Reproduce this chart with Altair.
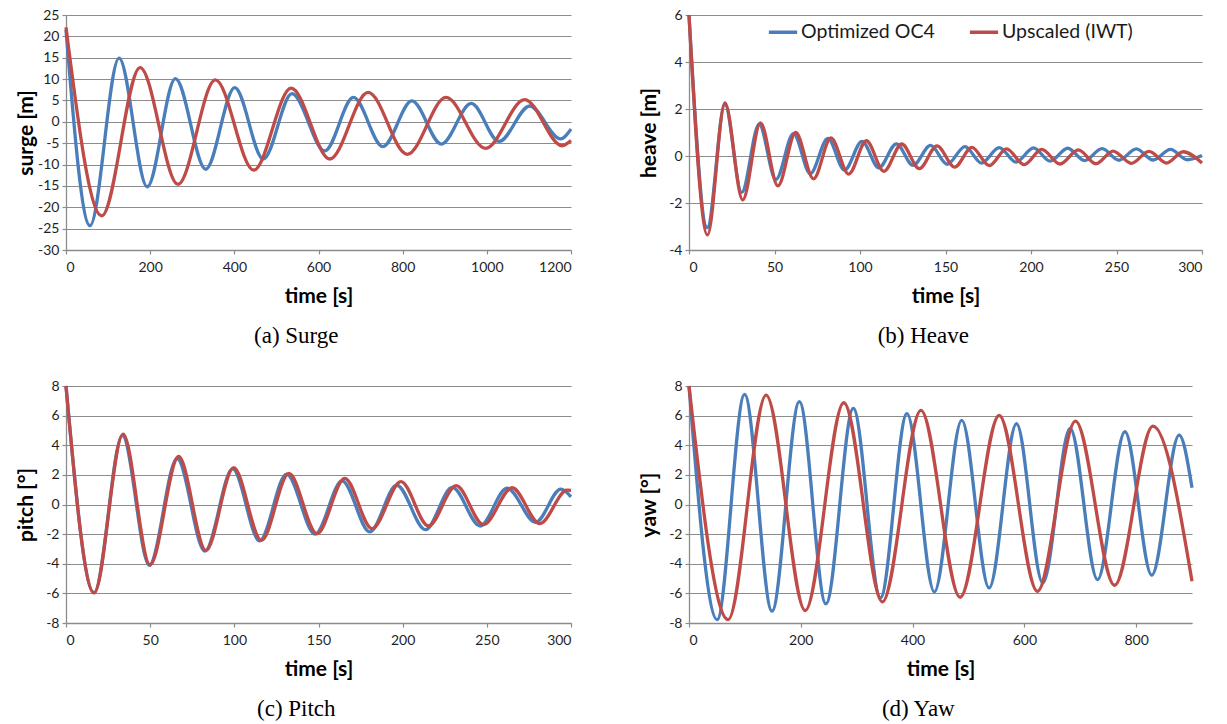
import altair as alt
import pandas as pd

SERIES = ["Optimized OC4", "Upscaled (IWT)"]
COLORS = ["#4A7EBB", "#BE4B48"]

# ---- Surge (extrema) ----
surge_t_oc4 = [0, 57, 126, 193, 260, 332, 401, 469, 537, 615, 683, 753, 822, 892, 963, 1029, 1102, 1175, 1200]
surge_y_oc4 = [21.5, -24.3, 14.9, -15.2, 10.1, -11.1, 8.0, -8.7, 6.6, -6.8, 5.7, -5.8, 4.9, -5.2, 4.3, -4.6, 3.7, -4.0, -1.7]
surge_t_iwt = [0, 85, 176, 266, 355, 446, 535, 627, 718, 811, 903, 997, 1090, 1179, 1200]
surge_y_iwt = [22.1, -22.0, 12.7, -14.6, 9.8, -11.3, 7.9, -8.7, 6.9, -7.6, 5.7, -6.2, 5.2, -5.6, -4.4]

# ---- Heave ----
heave_t_oc4 = [0, 10.7, 21, 30.8, 41, 50.8, 61.1, 70.9, 81.2, 90.9, 101.2, 111, 121.3, 131, 141.3, 151,
               161.4, 171.1, 181.4, 191.2, 201.5, 211.2, 221.5, 231.3, 241.6, 251.3, 261.6, 271.4, 281.6, 291.4, 300]
heave_y_oc4 = [6.0, -3.05, 2.2, -1.55, 1.35, -1.0, 0.95, -0.75, 0.75, -0.6, 0.62, -0.5, 0.52, -0.4, 0.45, -0.35,
               0.4, -0.3, 0.36, -0.26, 0.35, -0.22, 0.33, -0.2, 0.31, -0.18, 0.3, -0.17, 0.28, -0.16, 0.02]
heave_t_iwt = [0, 10.8, 21, 31.4, 41.8, 52, 62.4, 72.8, 83, 93.4, 103.7, 114, 124.4, 134.7, 145, 155.4,
               165.4, 175.6, 185.7, 196, 206.3, 217, 227.7, 238, 248, 258.7, 269, 279.3, 289, 300]
heave_y_iwt = [6.0, -3.36, 2.26, -1.87, 1.41, -1.27, 1.0, -0.97, 0.77, -0.77, 0.65, -0.65, 0.51, -0.54, 0.43, -0.47,
               0.37, -0.41, 0.3, -0.37, 0.28, -0.34, 0.26, -0.33, 0.21, -0.31, 0.2, -0.3, 0.18, -0.3]

# ---- Pitch ----
pitch_t_oc4 = [0, 16.7, 33.5, 49.5, 66, 82.5, 99, 115, 131, 148, 164, 180.5, 196.5, 213.5, 229.5, 246, 262, 279, 294, 300]
pitch_y_oc4 = [8.0, -5.95, 4.65, -4.1, 3.1, -3.15, 2.4, -2.45, 2.05, -2.0, 1.6, -1.85, 1.3, -1.7, 1.15, -1.45, 1.1, -1.2, 1.04, 0.52]
pitch_t_iwt = [0, 16.7, 33.9, 49.9, 66.9, 83.1, 99.6, 116.1, 132.4, 149.1, 165.6, 181.8, 199, 215.3, 231.8, 248, 265, 281.5, 297.7, 300]
pitch_y_iwt = [8.0, -5.97, 4.75, -4.07, 3.24, -3.1, 2.49, -2.42, 2.1, -1.97, 1.76, -1.63, 1.54, -1.45, 1.27, -1.36, 1.13, -1.29, 0.97, 0.95]

# ---- Yaw ----
yaw_t_oc4 = [0, 50.4, 99.5, 148.5, 197.5, 245, 294, 342.6, 390, 439, 488, 537, 586, 633, 682, 731, 780, 828, 877, 900]
yaw_y_oc4 = [8.0, -7.77, 7.43, -7.2, 6.94, -6.71, 6.49, -6.3, 6.13, -5.9, 5.68, -5.63, 5.45, -5.3, 5.13, -5.07, 4.91, -4.77, 4.68, 1.13]
yaw_t_iwt = [0, 70, 138, 208, 277, 346, 415, 485, 555, 623.5, 691.5, 761.5, 830, 900]
yaw_y_iwt = [8.0, -7.77, 7.39, -7.16, 6.87, -6.58, 6.35, -6.26, 6.01, -5.86, 5.63, -5.45, 5.29, -5.18]

LABEL_FONT = "Lato"
GRID = "#8C8C8C"


def frame(t1, y1, t2, y2):
    a = pd.DataFrame({"t": t1, "v": y1, "series": SERIES[0]})
    b = pd.DataFrame({"t": t2, "v": y2, "series": SERIES[1]})
    return pd.concat([a, b], ignore_index=True)


def panel(df, xdom, xticks, ydom, yticks, ytitle, caption, width, height, legend=False):
    if legend:
        leg = alt.Legend(
            title=None, orient="none", legendX=78, legendY=1, direction="horizontal",
            symbolType="stroke", symbolSize=800, symbolStrokeWidth=3.5,
            labelFont=LABEL_FONT, labelFontSize=19.5, labelColor="#1a1a1a",
            columnPadding=27, labelOffset=2, symbolOffset=0,
        )
    else:
        leg = None
    return (
        alt.Chart(df)
        .mark_line(strokeWidth=3.3, interpolate="monotone")
        .encode(
            x=alt.X("t:Q", scale=alt.Scale(domain=xdom, nice=False, zero=False),
                    axis=alt.Axis(values=xticks, title="time [s]", grid=False,
                                  labelExpr="'' + datum.value")),
            y=alt.Y("v:Q", scale=alt.Scale(domain=ydom, nice=False, zero=False),
                    axis=alt.Axis(values=yticks, title=ytitle, grid=True,
                                  labelExpr="'' + datum.value",
                                  minExtent=28, maxExtent=28)),
            color=alt.Color("series:N", scale=alt.Scale(domain=SERIES, range=COLORS), legend=leg),
            order=alt.Order("t:Q"),
        )
        .properties(
            width=width, height=height,
            title=alt.TitleParams(caption, orient="bottom", frame="bounds", anchor="middle",
                                  font="Liberation Serif", fontSize=23, fontWeight="normal",
                                  color="#000000", offset=19),
        )
    )


surge = panel(frame(surge_t_oc4, surge_y_oc4, surge_t_iwt, surge_y_iwt),
              [0, 1200], list(range(0, 1201, 200)), [-30, 25], list(range(-30, 26, 5)),
              "surge [m]", "(a)  Surge", 505, 235)
heave = panel(frame(heave_t_oc4, heave_y_oc4, heave_t_iwt, heave_y_iwt),
              [0, 300], list(range(0, 301, 50)), [-4, 6], list(range(-4, 7, 2)),
              "heave [m]", "(b)  Heave", 513, 235, legend=True)
pitch = panel(frame(pitch_t_oc4, pitch_y_oc4, pitch_t_iwt, pitch_y_iwt),
              [0, 300], list(range(0, 301, 50)), [-8, 8], list(range(-8, 9, 2)),
              "pitch [°]", "(c)  Pitch", 505, 237)
yaw = panel(frame(yaw_t_oc4, yaw_y_oc4, yaw_t_iwt, yaw_y_iwt),
            [0, 900], list(range(0, 801, 200)), [-8, 8], list(range(-8, 9, 2)),
            "yaw [°]", "(d)  Yaw", 503, 237)

chart = (
    alt.concat(surge, heave, pitch, yaw, columns=2, spacing={"row": 31, "column": 60})
    .resolve_legend(color="independent")
    .properties(padding={"left": 15, "top": 8, "right": 5, "bottom": 5}, background="white")
    .configure_view(stroke=None)
    .configure_axis(
        labelFont=LABEL_FONT, labelFontSize=14, labelColor="#1f1f1f",
        titleFont=LABEL_FONT, titleFontSize=21, titleFontWeight="bold", titleColor="#000000",
        domainColor=GRID, domainWidth=1.3, tickColor=GRID, tickSize=4, tickWidth=1.2,
        gridColor=GRID, gridWidth=1.2, labelPadding=3, titlePadding=2,
    )
    .configure_axisX(titlePadding=11, labelPadding=6)
)

chart.save("out.html", embed_options={"renderer": "svg", "actions": False})
